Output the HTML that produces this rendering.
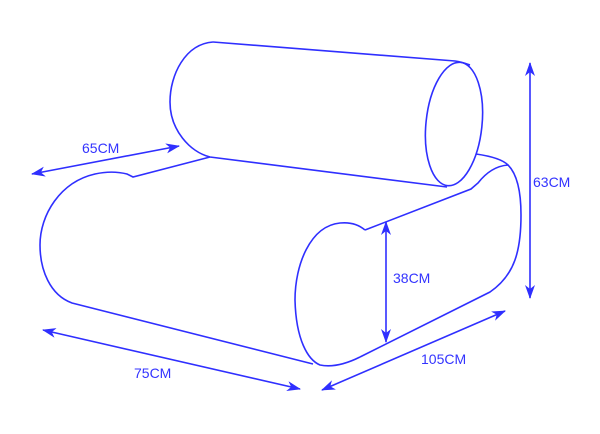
<!DOCTYPE html>
<html><head><meta charset="utf-8"><style>
html,body{margin:0;padding:0;background:#fff;width:600px;height:434px;overflow:hidden}
svg{display:block}
text{font-family:"Liberation Sans",sans-serif;font-size:14px;fill:#3333ff}
</style></head><body>
<svg width="600" height="434" viewBox="0 0 600 434">
<defs>
<marker id="a" markerWidth="14" markerHeight="10" refX="13" refY="5" orient="auto" markerUnits="userSpaceOnUse">
<path d="M0,0 L14,5 L0,10 L4,5 Z" fill="#2f2fff"/>
</marker>
<marker id="b" markerWidth="14" markerHeight="10" refX="1" refY="5" orient="auto" markerUnits="userSpaceOnUse">
<path d="M14,0 L0,5 L14,10 L10,5 Z" fill="#2f2fff"/>
</marker>
</defs>
<g fill="none" stroke="#2f2fff" stroke-width="1.6">
<!-- bolster -->
<path d="M213,42 L455,61 C462,62 467,64 470,65"/>
<path d="M213,42 C185,44 170,75 170,102 C170,130 190,152 210,157 L447,187"/>
<ellipse cx="454" cy="124" rx="28" ry="62" transform="rotate(6 454 124)"/>
<!-- seat back line -->
<path d="M210,157 L133,177 L127,174 C115,171 104,172 95,174 C60,182 40,215 40,245 C40,270 50,295 72,303 L313,364"/>
<!-- right side -->
<path d="M476,154 C490,156 502,159 508,165 C518,175 521,195 521,215 C521,250 515,275 490,292 L360,357"/>
<path d="M508,165 C495,166 485,174 478,183 L471,189 L365,230"/>
<!-- front arm face -->
<path d="M365,230 C358,224 350,222 340,223 C310,226 295,265 295,300 C296,340 308,360 320,365 C335,368 350,362 360,357"/>
<!-- dimension arrows -->
<line x1="32" y1="174" x2="179" y2="146" marker-start="url(#b)" marker-end="url(#a)"/>
<line x1="43" y1="330" x2="300" y2="389" marker-start="url(#b)" marker-end="url(#a)"/>
<line x1="322" y1="390" x2="505" y2="311" marker-start="url(#b)" marker-end="url(#a)"/>
<line x1="386" y1="222" x2="386" y2="342" marker-start="url(#b)" marker-end="url(#a)"/>
<line x1="530" y1="63" x2="530" y2="298" marker-start="url(#b)" marker-end="url(#a)"/>
</g>
<text x="82" y="153">65CM</text>
<text x="134" y="378">75CM</text>
<text x="421" y="364">105CM</text>
<text x="393" y="283">38CM</text>
<text x="533" y="187">63CM</text>
</svg>
</body></html>
